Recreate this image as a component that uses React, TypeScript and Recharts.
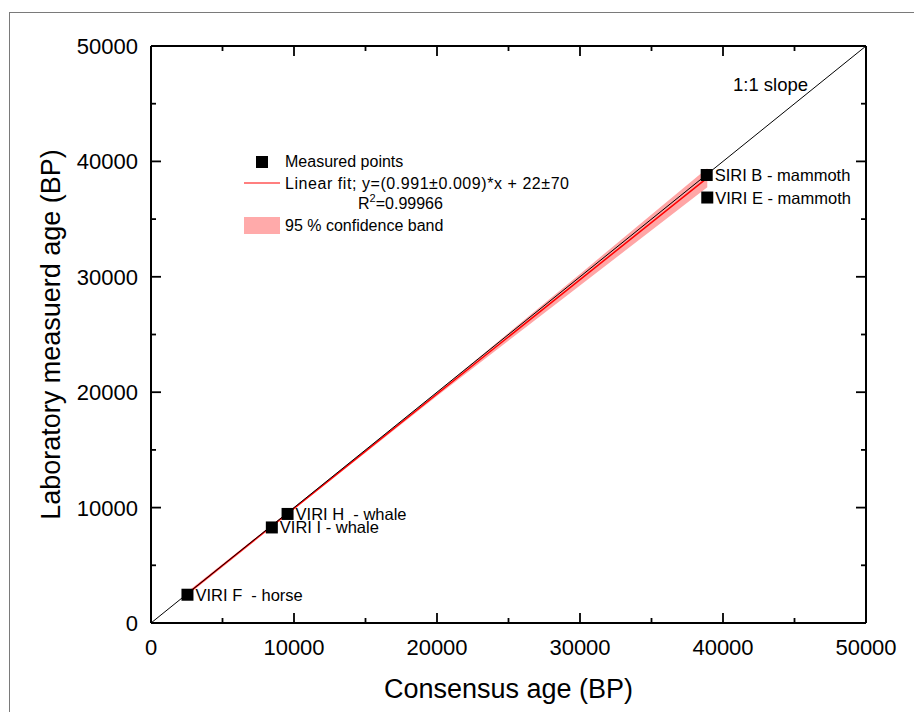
import React from "react";
import {
  Area,
  ComposedChart,
  LabelList,
  Line,
  Scatter,
  XAxis,
  YAxis,
} from "recharts";

// measured samples (consensus age vs lab age, BP)
const pointNames = [
  "VIRI F  - horse",
  "VIRI I - whale",
  "VIRI H  - whale",
  "SIRI B - mammoth",
  "VIRI E - mammoth",
];
const pointX = [2550, 8450, 9550, 38860, 38900];
const pointY = [2450, 8280, 9450, 38820, 36870];

// linear fit end points
const fitX = [2550, 38900];
const fitY = [2549, 38572];

// 95 % confidence band
const bandX = [2550, 10000, 20000, 30000, 38900];
const bandLow = [2400, 9830, 19670, 29250, 37750];
const bandHigh = [2700, 10040, 20020, 30250, 39400];

// 1:1 slope
const slopeX = [0, 50000];
const slopeY = [0, 50000];

const axisTicks = [
  0, 5000, 10000, 15000, 20000, 25000, 30000, 35000, 40000, 45000, 50000,
];

const FONT = "'Liberation Sans', Arial, sans-serif";
const MAJOR = 10;
const MINOR = 5;

const points = pointX.map((x, i) => ({ x, y: pointY[i], name: pointNames[i] }));
const fitData = fitX.map((x, i) => ({ x, y: fitY[i] }));
const bandData = bandX.map((x, i) => ({ x, range: [bandLow[i], bandHigh[i]] }));
const slopeData = slopeX.map((x, i) => ({ x, y: slopeY[i] }));

const isMajor = (v: number) => v % 10000 === 0;

function BottomTick({ x, y, payload }: any) {
  const major = isMajor(payload.value);
  return (
    <g>
      <line x1={x} x2={x} y1={y} y2={y - (major ? MAJOR : MINOR)} stroke="#000" strokeWidth={1.8} />
      {major && (
        <text x={x} y={y + 32} textAnchor="middle" fontSize={22} fontFamily={FONT} fill="#000">
          {payload.value}
        </text>
      )}
    </g>
  );
}

function LeftTick({ x, y, payload }: any) {
  const major = isMajor(payload.value);
  return (
    <g>
      <line x1={x} x2={x + (major ? MAJOR : MINOR)} y1={y} y2={y} stroke="#000" strokeWidth={1.8} />
      {major && (
        <text x={x - 13} y={y + 8} textAnchor="end" fontSize={22} fontFamily={FONT} fill="#000">
          {payload.value}
        </text>
      )}
    </g>
  );
}

function TopTick({ x, y, payload }: any) {
  const len = isMajor(payload.value) ? MAJOR : MINOR;
  return <line x1={x} x2={x} y1={y} y2={y + len} stroke="#000" strokeWidth={1.8} />;
}

function RightTick({ x, y, payload }: any) {
  const len = isMajor(payload.value) ? MAJOR : MINOR;
  return <line x1={x} x2={x - len} y1={y} y2={y} stroke="#000" strokeWidth={1.8} />;
}

function SquareDot({ cx, cy }: any) {
  return <rect x={cx - 6} y={cy - 6} width={12} height={12} fill="#000" />;
}

function PointLabel({ x, y, width, height, value }: any) {
  return (
    <text
      x={x + width / 2 + 8}
      y={y + height / 2 + 6}
      fontSize={16.5}
      fontFamily={FONT}
      fill="#000"
      style={{ whiteSpace: "pre" }}
    >
      {value}
    </text>
  );
}

function Overlay() {
  return (
    <svg
      width={914}
      height={712}
      style={{ position: "absolute", left: 0, top: 0, pointerEvents: "none" }}
      fontFamily={FONT}
    >
      <text x={733} y={91} fontSize={18.5} fill="#000">
        1:1 slope
      </text>
      <g transform="translate(240,150)" fontSize={16} fill="#000">
        <rect x={16} y={6} width={12} height={12} fill="#000" />
        <text x={45} y={17}>Measured points</text>
        <line x1={4} x2={40} y1={33} y2={33} stroke="#ff0000" strokeWidth={1.2} />
        <text x={45} y={39} textLength={284} lengthAdjust="spacing">
          Linear fit; y=(0.991±0.009)*x + 22±70
        </text>
        <text x={118} y={59}>
          R<tspan dy={-7} fontSize={11}>2</tspan>
          <tspan dy={7}>=0.99966</tspan>
        </text>
        <rect x={4} y={67} width={36} height={17} fill="#ffaaaa" />
        <text x={45} y={81}>95 % confidence band</text>
      </g>
    </svg>
  );
}

export default function App() {
  return (
    <div
      style={{
        position: "absolute",
        left: 0,
        top: 0,
        width: 914,
        height: 712,
        overflow: "hidden",
        background: "#fff",
      }}
    >
      <div
        style={{
          position: "absolute",
          left: 9,
          top: 12,
          width: 960,
          height: 760,
          border: "1px solid #7a7a7a",
        }}
      />
      <div style={{ position: "absolute", left: 0, top: 0 }}>
        <ComposedChart
          width={914}
          height={712}
          margin={{ top: 36, right: 38, bottom: 29, left: 51 }}
        >
          <XAxis
            xAxisId="bottom"
            dataKey="x"
            type="number"
            domain={[0, 50000]}
            ticks={axisTicks}
            interval={0}
            allowDataOverflow
            height={60}
            tickSize={0}
            tickMargin={0}
            tickLine={false}
            axisLine={{ stroke: "#000", strokeWidth: 2 }}
            tick={<BottomTick />}
            label={{
              content: ({ viewBox }: any) => (
                <text
                  x={viewBox.x + viewBox.width / 2}
                  y={viewBox.y + 75}
                  textAnchor="middle"
                  fontSize={27}
                  fontFamily={FONT}
                  fill="#000"
                >
                  Consensus age (BP)
                </text>
              ),
            }}
          />
          <XAxis
            xAxisId="top"
            orientation="top"
            dataKey="x"
            type="number"
            domain={[0, 50000]}
            ticks={axisTicks}
            interval={0}
            allowDataOverflow
            height={10}
            tickSize={0}
            tickMargin={0}
            tickLine={false}
            axisLine={{ stroke: "#000", strokeWidth: 2 }}
            tick={<TopTick />}
          />
          <YAxis
            yAxisId="left"
            type="number"
            domain={[0, 50000]}
            ticks={axisTicks}
            interval={0}
            allowDataOverflow
            width={100}
            tickSize={0}
            tickMargin={0}
            tickLine={false}
            axisLine={{ stroke: "#000", strokeWidth: 2 }}
            tick={<LeftTick />}
            label={{
              content: ({ viewBox }: any) => {
                const cx = viewBox.x + 9;
                const cy = viewBox.y + viewBox.height / 2;
                return (
                  <text
                    x={cx}
                    y={cy}
                    transform={`rotate(-90, ${cx}, ${cy})`}
                    textAnchor="middle"
                    fontSize={27}
                    fontFamily={FONT}
                    fill="#000"
                  >
                    Laboratory measuerd age (BP)
                  </text>
                );
              },
            }}
          />
          <YAxis
            yAxisId="right"
            orientation="right"
            type="number"
            domain={[0, 50000]}
            ticks={axisTicks}
            interval={0}
            allowDataOverflow
            width={10}
            tickSize={0}
            tickMargin={0}
            tickLine={false}
            axisLine={{ stroke: "#000", strokeWidth: 2 }}
            tick={<RightTick />}
          />
          <Area
            xAxisId="bottom"
            yAxisId="left"
            data={bandData}
            dataKey="range"
            type="linear"
            fill="#ffa6a6"
            fillOpacity={1}
            stroke="none"
            isAnimationActive={false}
          />
          <Line
            xAxisId="bottom"
            yAxisId="left"
            data={fitData}
            dataKey="y"
            type="linear"
            stroke="#ff0000"
            strokeWidth={1.5}
            dot={false}
            isAnimationActive={false}
          />
          <Line
            xAxisId="bottom"
            yAxisId="left"
            data={slopeData}
            dataKey="y"
            type="linear"
            stroke="#000"
            strokeWidth={1}
            dot={false}
            isAnimationActive={false}
          />
          <Scatter
            xAxisId="bottom"
            yAxisId="left"
            data={points}
            dataKey="y"
            shape={<SquareDot />}
            isAnimationActive={false}
          >
            <LabelList dataKey="name" content={<PointLabel />} />
          </Scatter>
        </ComposedChart>
      </div>
      <Overlay />
    </div>
  );
}
